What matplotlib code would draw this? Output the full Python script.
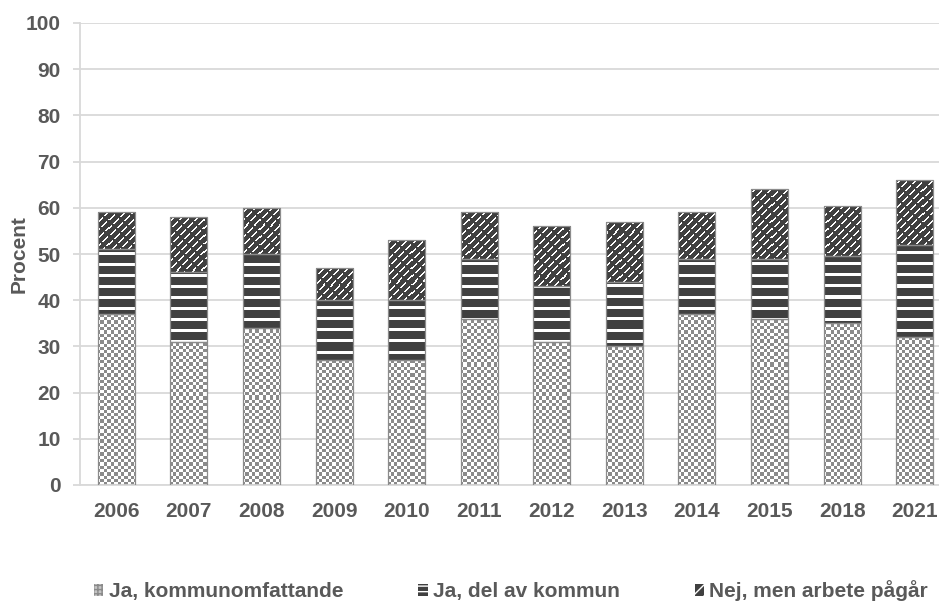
import matplotlib
matplotlib.use("Agg")
import matplotlib.pyplot as plt
from matplotlib.patches import Patch
import numpy as np

years = ["2006", "2007", "2008", "2009", "2010", "2011", "2012", "2013", "2014", "2015", "2018", "2021"]
ja_kommunomfattande = [37, 31, 34, 27, 27, 36, 31, 30, 37, 36, 35, 32]
ja_del_av_kommun = [14, 15, 16, 13, 13, 13, 12, 14, 12, 13, 14.6, 20]
nej_men_arbete = [8, 12, 10, 7, 13, 10, 13, 13, 10, 15, 10.7, 14]
series_names = ["Ja, kommunomfattande", "Ja, del av kommun", "Nej, men arbete pågår"]
yticks = list(range(0, 101, 10))

plt.rcParams['font.family'] = ['Liberation Sans', 'DejaVu Sans']

W, H = 939, 603
fig = plt.figure(figsize=(W / 100, H / 100), dpi=100)
ax_l, ax_b, ax_w, ax_h = 80, 118, 871, 462
ax = fig.add_axes([ax_l / W, ax_b / H, ax_w / W, ax_h / H])

x = np.arange(len(years))
w = 0.51
dark = np.array([0x40, 0x40, 0x40]) / 255.0
white = np.array([1.0, 1.0, 1.0])
grey = np.array([0x8a, 0x8a, 0x8a]) / 255.0
txt = "#595959"

# pixel-level fill patterns covering the whole axes area
ii, jj = np.mgrid[0:ax_h, 0:ax_w]
checker_mask = ((np.floor(ii / 3.3) + np.floor(jj / 3.3)) % 2) == 0
pat_checker = np.where(checker_mask[..., None], grey, white)
stripe_mask = ((ii + 2) % 11) < 3
pat_stripes = np.where(stripe_mask[..., None], white, dark)
diag_mask = (((ii + jj) % 8) < 2) & (((jj - ii) % 14) < 11)
pat_diag = np.where(diag_mask[..., None], white, dark)
patterns = [pat_checker, pat_stripes, pat_diag]

s1 = np.array(ja_kommunomfattande, dtype=float)
s2 = np.array(ja_del_av_kommun, dtype=float)
s3 = np.array(nej_men_arbete, dtype=float)
bottoms = [np.zeros(len(x)), s1, s1 + s2]
vals = [s1, s2, s3]

xlim = (-0.5, len(x) - 0.5)
ylim = (0, 100)
for v, b, pat in zip(vals, bottoms, patterns):
    bars = ax.bar(x, v, w, bottom=b, facecolor="none", edgecolor="#8c8c8c", linewidth=0.9, zorder=3)
    for p in bars.patches:
        im = ax.imshow(pat, extent=(xlim[0], xlim[1], ylim[0], ylim[1]), origin="upper",
                       aspect="auto", interpolation="nearest", zorder=2)
        im.set_clip_path(p)

ax.set_ylim(*ylim)
ax.set_xlim(*xlim)
ax.set_yticks(yticks)
ax.set_xticks(x)
ax.set_xticklabels(years)
ax.yaxis.grid(True, color="#d9d9d9", linewidth=1.3, zorder=0)
ax.set_axisbelow(True)
for sp in ["top", "right"]:
    ax.spines[sp].set_visible(False)
for sp in ["left", "bottom"]:
    ax.spines[sp].set_color("#d9d9d9")
    ax.spines[sp].set_linewidth(1.3)
ax.tick_params(axis="x", length=0, labelsize=15, labelcolor=txt, pad=12.5)
ax.tick_params(axis="y", length=5, width=1.3, color="#d9d9d9", labelsize=15, labelcolor=txt, pad=9)
for lab in ax.get_xticklabels() + ax.get_yticklabels():
    lab.set_fontweight("bold")
ax.set_ylabel("Procent", fontsize=15, fontweight="bold", color=txt)
ax.yaxis.set_label_coords(-0.0594, 0.5)

handles = [
    Patch(facecolor="#c4c4c4", edgecolor="#8a8a8a", hatch="++++", linewidth=0),
    Patch(facecolor="#404040", edgecolor="white", hatch="---", linewidth=0),
    Patch(facecolor="#404040", edgecolor="white", hatch="///", linewidth=0),
]
leg = fig.legend(handles, series_names, loc="center", bbox_to_anchor=(511 / W, 12 / H),
                 ncol=3, frameon=False, handlelength=0.45, handleheight=0.45, handletextpad=0.25,
                 columnspacing=3.6, borderpad=0, prop=dict(size=15, weight="bold"))
for t in leg.get_texts():
    t.set_color(txt)

fig.savefig("out.png", dpi=100)
